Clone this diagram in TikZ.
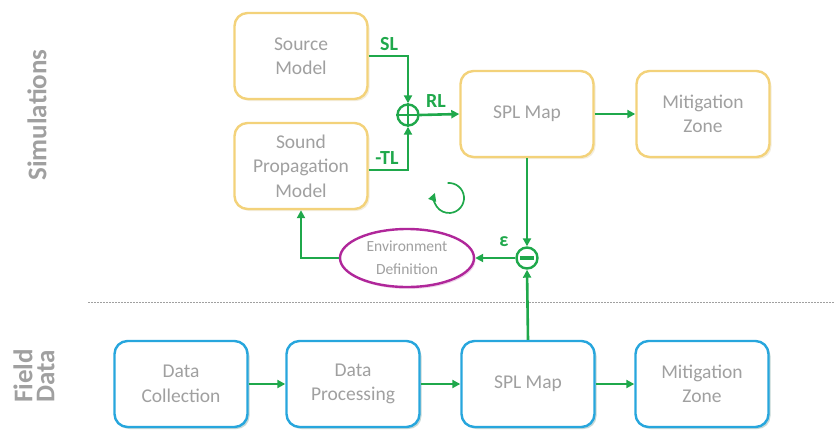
\documentclass[tikz,border=0pt]{standalone}
\usepackage{fontspec}
\setmainfont{Carlito}
\usetikzlibrary{arrows.meta,shapes.geometric,shadows}
\definecolor{boxyellow}{HTML}{F3D27A}
\definecolor{boxblue}{HTML}{27A6DD}
\definecolor{flowgreen}{HTML}{1FA84B}
\definecolor{envmag}{HTML}{B0279A}
\definecolor{txtgrey}{HTML}{A0A0A0}
\tikzset{
  simbox/.style={draw=boxyellow, line width=2.4pt, rounded corners=13pt, fill=white,
    minimum width=133pt, minimum height=86pt, align=center, text=txtgrey,
    font=\fontsize{19.5}{24.5}\selectfont,
    drop shadow={shadow xshift=2pt, shadow yshift=-2pt, opacity=0.25, fill=boxyellow!70!gray}},
  fieldbox/.style={simbox, draw=boxblue,
    drop shadow={shadow xshift=2pt, shadow yshift=-2pt, opacity=0.25, fill=boxblue!70!gray}},
  flow/.style={draw=flowgreen, line width=2.6pt, -{Triangle[length=8pt,width=8pt]}},
  flowline/.style={draw=flowgreen, line width=2.4pt},
  sumnode/.style={circle, draw=flowgreen, line width=2.4pt, fill=white, minimum size=21pt, inner sep=0pt},
  flowlabel/.style={text=flowgreen, font=\fontsize{20}{22}\selectfont\bfseries},
  sidelabel/.style={text=txtgrey, font=\fontsize{27}{27}\selectfont\bfseries, rotate=90, align=center}
}
\begin{document}
\begin{tikzpicture}[x=1pt,y=-1pt]
\useasboundingbox (0,0) rectangle (835,432);
% section labels
\node[sidelabel] (simlab) at (37,115) {Simulations};
\node[sidelabel, font=\fontsize{27}{22}\selectfont\bfseries] (fieldlab) at (34,376) {Field\\Data};
% divider
\coordinate (divL) at (88,302);
\coordinate (divR) at (835,302);
\draw[txtgrey, line width=0.8pt, dash pattern=on 1.5pt off 1.5pt] (divL) -- (divR);
% simulation boxes
\node[simbox] (src) at (301,56) {Source\\Model};
\node[simbox] (prop) at (301,166) {Sound\\Propagation\\Model};
\node[simbox] (spl) at (527,114) {SPL Map};
\node[simbox] (mit) at (703,114) {Mitigation\\Zone};
% field boxes
\node[fieldbox] (dc) at (181,384) {Data\\Collection};
\node[fieldbox] (dp) at (353,384) {Data\\Processing};
\node[fieldbox] (spl2) at (528,384) {SPL Map};
\node[fieldbox] (mit2) at (702,384) {Mitigation\\Zone};
% summing junctions
\node[sumnode] (plus) at (408,115) {};
\draw[flowline, line width=2.2pt] (plus.north) -- (plus.south) (plus.west) -- (plus.east);
\node[sumnode] (minus) at (527,258) {};
\draw[flowline, line width=3.4pt] ([xshift=4.5pt]minus.west) -- ([xshift=-4.5pt]minus.east);
% environment ellipse
\node[ellipse, draw=envmag, line width=2.4pt, fill=white, minimum width=134pt, minimum height=58pt,
  align=center, text=txtgrey, font=\fontsize{15.5}{23}\selectfont,
  drop shadow={shadow xshift=1.5pt, shadow yshift=-2pt, opacity=0.35, fill=envmag!60}] (env) at (407,258) {Environment\\Definition};
% connectors
\draw[flow] (src.east |- 0,56) -| (plus.north);
\draw[flow] (prop.east |- 0,170) -| (plus.south);
\draw[flow] (plus.east) -- (spl.west);
\draw[flow] (spl.east) -- (mit.west);
\draw[flow] (spl.south) -- (minus.north);
\draw[flow] (spl2.north) -- (minus.south);
\draw[flow] (minus.west) -- (env.east);
\draw[flow] (env.west) -| (prop.south);
\draw[flow] (dc.east) -- (dp.west);
\draw[flow] (dp.east) -- (spl2.west);
\draw[flow] (spl2.east) -- (mit2.west);
% labels
\node[flowlabel] (sl) at (389,44) {SL};
\node[flowlabel] (tl) at (387,158) {-TL};
\node[flowlabel] (rl) at (436,101) {RL};
\node[flowlabel] (eps) at (504,242) {ε};
% loop arrow
\coordinate (loopc) at (449,198);
\draw[flowgreen, line width=1.7pt, -{Triangle[length=8pt,width=8pt]}]
  ([shift={(95:15pt)}]loopc) arc[start angle=95, end angle=-200, radius=15pt];
\end{tikzpicture}
\end{document}
